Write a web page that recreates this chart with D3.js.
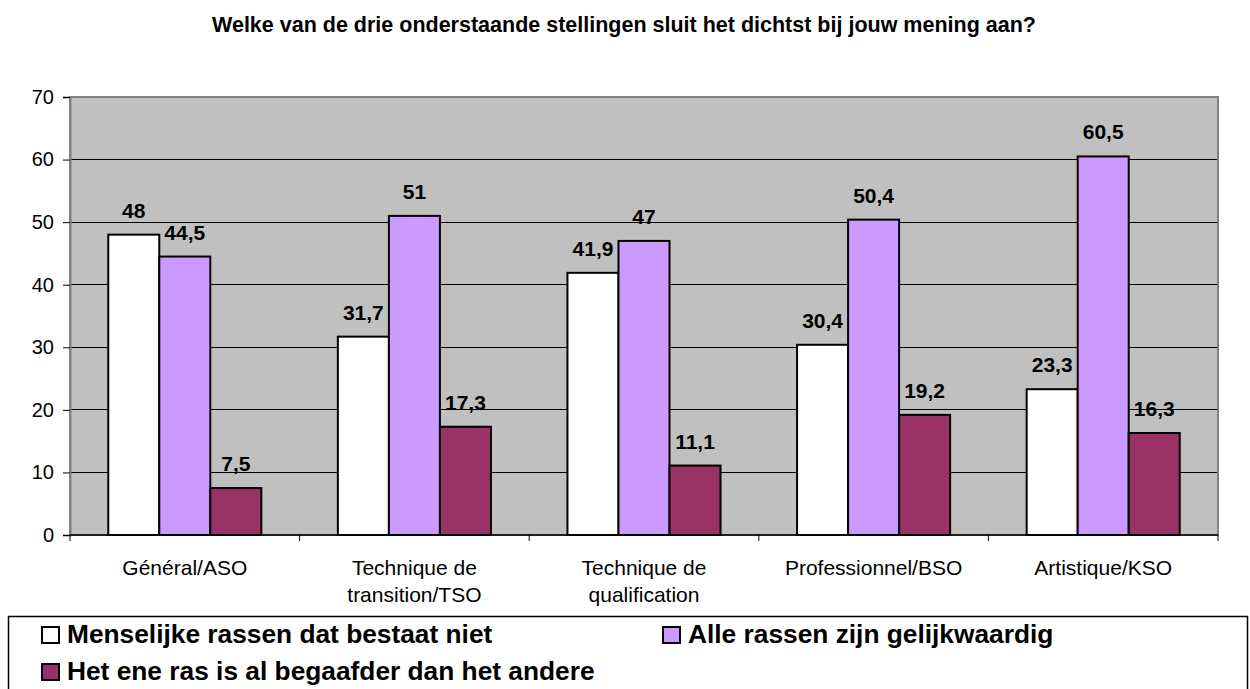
<!DOCTYPE html>
<html>
<head>
<meta charset="utf-8">
<script src="https://cdn.jsdelivr.net/npm/d3@7"></script>
<style>
  body { margin: 0; background: #fff; }
  svg { display: block; font-family: "Liberation Sans", Arial, sans-serif; }
</style>
</head>
<body>
<svg id="chart" width="1250" height="689"></svg>
<script>
const [W, H] = [1250, 689];

const title = "Welke van de drie onderstaande stellingen sluit het dichtst bij jouw mening aan?";
const categories = ["Général/ASO", "Technique de transition/TSO", "Technique de qualification", "Professionnel/BSO", "Artistique/KSO"];
const categoryLines = [["Général/ASO"], ["Technique de", "transition/TSO"], ["Technique de", "qualification"], ["Professionnel/BSO"], ["Artistique/KSO"]];
const seriesNames = ["Menselijke rassen dat bestaat niet", "Alle rassen zijn gelijkwaardig", "Het ene ras is al begaafder dan het andere"];
const bestaatNiet = [48, 31.7, 41.9, 30.4, 23.3];
const gelijkwaardig = [44.5, 51, 47, 50.4, 60.5];
const begaafder = [7.5, 17.3, 11.1, 19.2, 16.3];
const yTicks = [0, 10, 20, 30, 40, 50, 60, 70];
const colors = ["#ffffff", "#cc99ff", "#993366"];

const seriesValues = [bestaatNiet, gelijkwaardig, begaafder];
const plot = {left: 70, right: 1218, top: 97, bottom: 535};

const svg = d3.select("#chart");

svg.append("text")
    .attr("x", 624).attr("y", 32)
    .attr("text-anchor", "middle")
    .style("font-size", "21.5px").style("font-weight", "bold")
    .text(title);

const x = d3.scaleBand().domain(categories).range([plot.left, plot.right]);
const xs = d3.scaleBand().domain(seriesNames).range([0, x.bandwidth()]).paddingOuter(0.75);
const y = d3.scaleLinear().domain([0, 70]).range([plot.bottom, plot.top]);

// plot background
svg.append("rect")
    .attr("x", plot.left).attr("y", plot.top)
    .attr("width", plot.right - plot.left).attr("height", plot.bottom - plot.top)
    .attr("fill", "#c0c0c0");

// gridlines
svg.append("g").selectAll("line").data(yTicks.filter(d => d > 0 && d < 70)).join("line")
    .attr("x1", plot.left).attr("x2", plot.right)
    .attr("y1", d => y(d)).attr("y2", d => y(d))
    .attr("stroke", "#000").attr("stroke-width", 1).attr("shape-rendering", "crispEdges");

// plot border
svg.append("rect")
    .attr("x", plot.left).attr("y", plot.top)
    .attr("width", plot.right - plot.left).attr("height", plot.bottom - plot.top)
    .attr("fill", "none").attr("stroke", "#808080").attr("stroke-width", 2);

// bars
const groups = svg.append("g").selectAll("g").data(categories).join("g")
    .attr("transform", d => `translate(${x(d)},0)`);

groups.selectAll("rect")
    .data((c, i) => seriesNames.map((s, j) => ({s, j, v: seriesValues[j][i]})))
    .join("rect")
    .attr("x", d => xs(d.s))
    .attr("y", d => y(d.v))
    .attr("width", xs.bandwidth())
    .attr("height", d => y(0) - y(d.v))
    .attr("fill", d => colors[d.j])
    .attr("stroke", "#000").attr("stroke-width", 2);

groups.selectAll("text")
    .data((c, i) => seriesNames.map((s, j) => ({s, j, v: seriesValues[j][i]})))
    .join("text")
    .attr("x", d => xs(d.s) + xs.bandwidth() / 2)
    .attr("y", d => y(d.v) - 17)
    .attr("text-anchor", "middle")
    .style("font-size", "21px").style("font-weight", "bold")
    .text(d => String(d.v).replace(".", ","));

// y axis
const yAxis = svg.append("g")
    .attr("transform", `translate(${plot.left},0)`)
    .call(d3.axisLeft(y).tickValues(yTicks).tickSize(7).tickPadding(9).tickFormat(d3.format("d")));
yAxis.select(".domain").attr("stroke", "#808080").attr("stroke-width", 2);
yAxis.selectAll(".tick line").attr("stroke", "#000");
yAxis.selectAll(".tick text").style("font-size", "20px").style("font-family", "Liberation Sans, Arial, sans-serif").attr("fill", "#000");

// x axis: ticks at category boundaries
const xAxis = svg.append("g")
    .attr("transform", `translate(0,${plot.bottom})`);
xAxis.append("line")
    .attr("x1", plot.left).attr("x2", plot.right)
    .attr("stroke", "#000").attr("stroke-width", 1.5);
xAxis.selectAll("line.tk").data(categories.concat(["end"])).join("line")
    .attr("class", "tk")
    .attr("x1", (d, i) => plot.left + i * x.step()).attr("x2", (d, i) => plot.left + i * x.step())
    .attr("y1", 0).attr("y2", 6)
    .attr("stroke", "#000");

const xl = xAxis.selectAll("text").data(categories).join("text")
    .attr("text-anchor", "middle")
    .attr("transform", d => `translate(${x(d) + x.bandwidth() / 2},0)`)
    .style("font-size", "21px");
xl.selectAll("tspan").data((d, i) => categoryLines[i]).join("tspan")
    .attr("x", 0)
    .attr("y", (d, i) => 40 + i * 27)
    .text(d => d);

// legend
const legend = svg.append("g");
legend.append("rect")
    .attr("x", 8.5).attr("y", 616.5).attr("width", 1239).attr("height", 100)
    .attr("fill", "#fff").attr("stroke", "#000").attr("stroke-width", 1.5);

const legendPos = [[41, 643], [662, 643], [41, 680]];
const items = legend.selectAll("g.item").data(seriesNames).join("g")
    .attr("class", "item")
    .attr("transform", (d, i) => `translate(${legendPos[i][0]},${legendPos[i][1]})`);
items.append("rect")
    .attr("x", 1).attr("y", -16).attr("width", 17).attr("height", 16)
    .attr("fill", (d, i) => colors[i]).attr("stroke", "#000").attr("stroke-width", 2);
items.append("text")
    .attr("x", 26).attr("y", 0)
    .style("font-size", "26.3px").style("font-weight", "bold")
    .text(d => d);
</script>
</body>
</html>
